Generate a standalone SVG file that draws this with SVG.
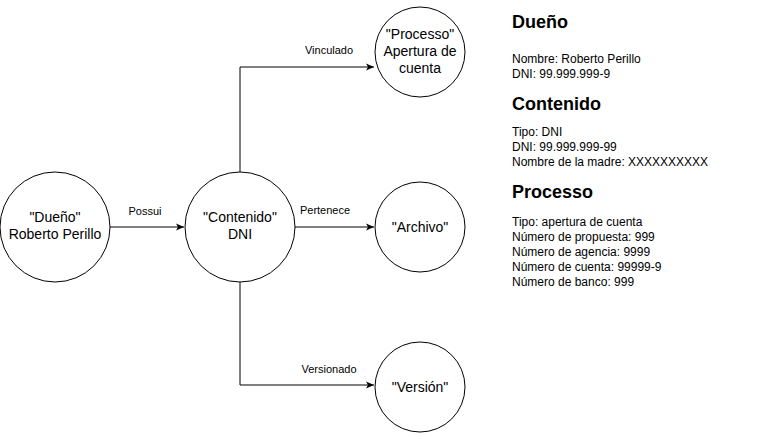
<svg xmlns="http://www.w3.org/2000/svg" width="761" height="441" viewBox="0 0 761 441">
<style>
circle{fill:#fff;stroke:#000;stroke-width:1}
text{font-family:"Liberation Sans",Arial,sans-serif;fill:#000}
.n{font-size:14px;text-anchor:middle}
.l{font-size:11px;text-anchor:middle}
.h{font-size:18px;font-weight:bold}
.t{font-size:12px}
.c{fill:none;stroke:#000;stroke-width:1}
</style>
<defs><marker id="a" markerWidth="10" markerHeight="10" refX="9" refY="5" orient="auto" markerUnits="userSpaceOnUse"><path d="M1,1.5 L9,5 L1,8.5 L3,5 Z" fill="#000"/></marker></defs>
<rect width="761" height="441" fill="#fff"/>
<g id="connectors">
<path class="c" d="M110,227 H184" marker-end="url(#a)"/>
<path class="c" d="M295,227 H374" marker-end="url(#a)"/>
<path class="c" d="M240,172 V67 H374" marker-end="url(#a)"/>
<path class="c" d="M240,282 V385 H374" marker-end="url(#a)"/>
<text class="l" x="145" y="215">Possui</text>
<text class="l" x="329" y="54">Vinculado</text>
<text class="l" x="325" y="214">Pertenece</text>
<text class="l" x="329" y="373">Versionado</text>
</g>
<g id="dueno"><circle cx="55" cy="227" r="55"/><text class="n" x="55" y="222">"Dueño"</text><text class="n" x="55" y="239">Roberto Perillo</text></g>
<g id="contenido"><circle cx="240" cy="227" r="55"/><text class="n" x="240" y="222">"Contenido"</text><text class="n" x="240" y="239">DNI</text></g>
<g id="processo"><circle cx="420" cy="52" r="45"/><text class="n" x="420" y="39">"Processo"</text><text class="n" x="420" y="56">Apertura de</text><text class="n" x="420" y="73">cuenta</text></g>
<g id="archivo"><circle cx="420" cy="227" r="45"/><text class="n" x="420" y="232">"Archivo"</text></g>
<g id="version"><circle cx="420" cy="387" r="45"/><text class="n" x="420" y="392">"Versión"</text></g>
<g id="info">
<text class="h" x="512" y="28">Dueño</text>
<text class="t" x="512" y="63">Nombre: Roberto Perillo</text>
<text class="t" x="512" y="78">DNI: 99.999.999-9</text>
<text class="h" x="512" y="110">Contenido</text>
<text class="t" x="512" y="136">Tipo: DNI</text>
<text class="t" x="512" y="151">DNI: 99.999.999-99</text>
<text class="t" x="512" y="166">Nombre de la madre: XXXXXXXXXX</text>
<text class="h" x="512" y="198">Processo</text>
<text class="t" x="512" y="226">Tipo: apertura de cuenta</text>
<text class="t" x="512" y="241">Número de propuesta: 999</text>
<text class="t" x="512" y="256">Número de agencia: 9999</text>
<text class="t" x="512" y="271">Número de cuenta: 99999-9</text>
<text class="t" x="512" y="286">Número de banco: 999</text>
</g>
</svg>
